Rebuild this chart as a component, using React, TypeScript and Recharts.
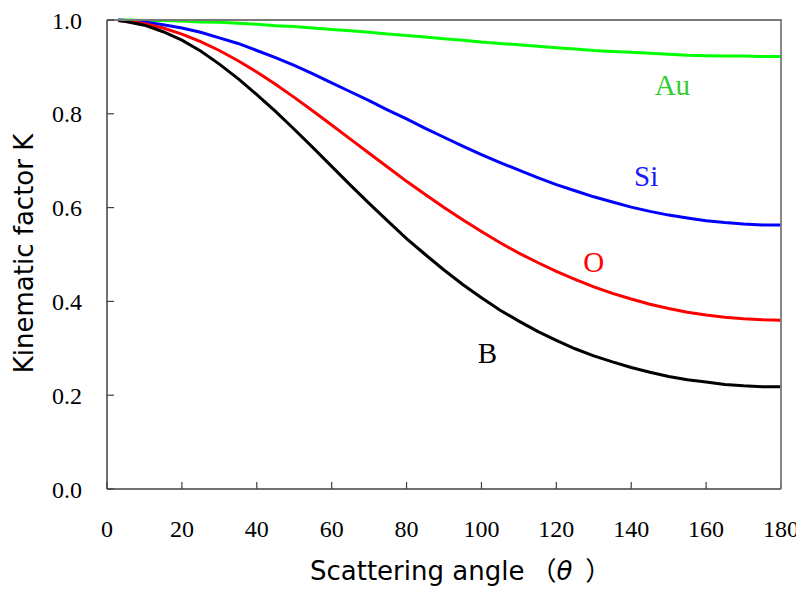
import { LineChart, Line, XAxis, YAxis, Label } from 'recharts';

// scattering angle (deg) and kinematic factor per target element
const angles = [3, 5, 10, 15, 20, 25, 30, 35, 40, 45, 50, 55, 60, 65, 70, 75, 80, 85, 90,
  95, 100, 105, 110, 115, 120, 125, 130, 135, 140, 145, 150, 155, 160, 165, 170, 175, 180];

const kB = [0.999, 0.997, 0.989, 0.975, 0.957, 0.934, 0.906, 0.875, 0.841, 0.805, 0.767, 0.728, 0.688,
  0.648, 0.609, 0.571, 0.534, 0.5, 0.467, 0.436, 0.408, 0.381, 0.358, 0.336, 0.317, 0.299, 0.284,
  0.271, 0.259, 0.249, 0.24, 0.233, 0.228, 0.223, 0.22, 0.218, 0.218];

const kO = [0.999, 0.998, 0.992, 0.983, 0.97, 0.954, 0.935, 0.913, 0.889, 0.863, 0.835, 0.806, 0.776,
  0.746, 0.716, 0.686, 0.656, 0.628, 0.6, 0.574, 0.549, 0.525, 0.503, 0.483, 0.464, 0.447, 0.431,
  0.417, 0.405, 0.394, 0.385, 0.377, 0.371, 0.366, 0.363, 0.361, 0.36];

const kSi = [1.0, 0.999, 0.996, 0.99, 0.983, 0.974, 0.962, 0.95, 0.935, 0.92, 0.903, 0.885, 0.866,
  0.847, 0.828, 0.808, 0.789, 0.769, 0.75, 0.731, 0.713, 0.696, 0.68, 0.664, 0.649, 0.636, 0.623,
  0.612, 0.601, 0.592, 0.584, 0.578, 0.572, 0.568, 0.565, 0.563, 0.563];

const kAu = [1.0, 1.0, 0.999, 0.999, 0.998, 0.996, 0.995, 0.993, 0.991, 0.988, 0.986, 0.983, 0.98,
  0.977, 0.974, 0.97, 0.967, 0.964, 0.96, 0.957, 0.953, 0.95, 0.947, 0.944, 0.941, 0.938, 0.935,
  0.933, 0.931, 0.929, 0.927, 0.925, 0.924, 0.923, 0.923, 0.922, 0.922];

const angleTicks = [0, 20, 40, 60, 80, 100, 120, 140, 160, 180];
const kTicks = [0, 0.2, 0.4, 0.6, 0.8, 1.0];

const data = angles.map((a, i) => ({ angle: a, B: kB[i], O: kO[i], Si: kSi[i], Au: kAu[i] }));

const serif = '"Liberation Serif", "Times New Roman", serif';
const sans = '"DejaVu Sans", "Noto Sans CJK JP", sans-serif';
const axisColor = '#404040';
const frameColor = '#7a7a7a';

// plot box inside the svg
const W = 796;
const H = 582;
const plot = { left: 99, top: 12, width: 674, height: 469 };
const toX = (angle: number) => plot.left + (angle / 180) * plot.width;
const toY = (k: number) => plot.top + (1 - k) * plot.height;

// element names written next to their curves
const tags = [
  { text: 'Au', angle: 151, k: 0.861, color: '#33cc33' },
  { text: 'Si', angle: 144, k: 0.667, color: '#1a1aff' },
  { text: 'O', angle: 130, k: 0.484, color: '#ff0000' },
  { text: 'B', angle: 101.6, k: 0.289, color: '#000000' },
];

export default function App() {
  return (
    <div style={{ position: 'relative', width: W, height: H }}>
      <LineChart width={W} height={H} data={data} margin={{ top: 12, right: 23, bottom: 41, left: 0 }}>
        <XAxis
          dataKey="angle"
          type="number"
          domain={[0, 180]}
          ticks={angleTicks}
          interval={0}
          height={60}
          tickSize={-7}
          tickMargin={38}
          axisLine={{ stroke: axisColor, strokeWidth: 1.5 }}
          tickLine={{ stroke: axisColor, strokeWidth: 1.2 }}
          tick={{ fill: '#000', fontSize: 24, fontFamily: serif }}
        >
          <Label
            content={({ viewBox }: any) => {
              const right = viewBox.x + viewBox.width;
              return (
                <g>
                  {/* top and right edges of the plot frame */}
                  <polyline
                    points={`${viewBox.x},${plot.top} ${right},${plot.top} ${right},${viewBox.y}`}
                    fill="none"
                    stroke={frameColor}
                    strokeWidth={1.8}
                  />
                  <text x={302} y={viewBox.y + 91} fontSize={26} fontFamily={sans} fill="#000">
                    Scattering angle
                    <tspan dx={6}>（</tspan>
                    <tspan fontStyle="italic">θ</tspan>
                    <tspan dx={13}>）</tspan>
                  </text>
                </g>
              );
            }}
          />
        </XAxis>
        <YAxis
          type="number"
          domain={[0, 1]}
          ticks={kTicks}
          interval={0}
          width={99}
          tickSize={-7}
          tickMargin={32}
          tickFormatter={(v: number) => v.toFixed(1)}
          axisLine={{ stroke: axisColor, strokeWidth: 1.5 }}
          tickLine={{ stroke: axisColor, strokeWidth: 1.2 }}
          tick={{ fill: '#000', fontSize: 24, fontFamily: serif }}
        >
          <Label
            content={({ viewBox }: any) => {
              const cx = 25;
              const cy = viewBox.y + viewBox.height / 2 - 1;
              return (
                <text
                  x={cx}
                  y={cy}
                  textAnchor="middle"
                  transform={`rotate(-90, ${cx}, ${cy})`}
                  fontSize={26}
                  fontFamily={sans}
                  fill="#000"
                >
                  Kinematic factor K
                </text>
              );
            }}
          />
        </YAxis>
        <Line type="linear" dataKey="Au" stroke="#00ff00" strokeWidth={3} dot={false} isAnimationActive={false} />
        <Line type="linear" dataKey="Si" stroke="#0000ff" strokeWidth={3} dot={false} isAnimationActive={false} />
        <Line type="linear" dataKey="O" stroke="#ff0000" strokeWidth={3} dot={false} isAnimationActive={false} />
        <Line type="linear" dataKey="B" stroke="#000000" strokeWidth={3} dot={false} isAnimationActive={false} />
      </LineChart>
      {tags.map((t) => (
        <span
          key={t.text}
          style={{
            position: 'absolute',
            left: toX(t.angle),
            top: toY(t.k),
            transform: 'translate(-50%, -50%)',
            color: t.color,
            fontFamily: serif,
            fontSize: 29,
            lineHeight: 1,
            whiteSpace: 'nowrap',
          }}
        >
          {t.text}
        </span>
      ))}
    </div>
  );
}
